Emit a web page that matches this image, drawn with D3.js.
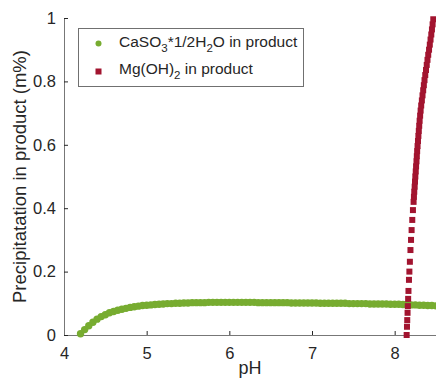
<!DOCTYPE html>
<html>
<head>
<meta charset="utf-8">
<script src="https://cdn.jsdelivr.net/npm/d3@7"></script>
<style>
  body { margin: 0; background: #fff; }
  text { font-family: "Liberation Sans", Arial, sans-serif; fill: #262626; }
</style>
</head>
<body>
<div id="chart"></div>
<script>
// CaSO3*1/2H2O in product
var phCa = [4.20, 4.25, 4.30, 4.35, 4.40, 4.45, 4.50, 4.55, 4.60, 4.65, 4.70, 4.75, 4.80, 4.85, 4.90, 4.95,
            5.00, 5.05, 5.10, 5.15, 5.20, 5.25, 5.30, 5.35, 5.40, 5.45, 5.50, 5.55, 5.60, 5.65, 5.70, 5.75,
            5.80, 5.85, 5.90, 5.95, 6.00, 6.05, 6.10, 6.15, 6.20, 6.25, 6.30, 6.35, 6.40, 6.45, 6.50, 6.55,
            6.60, 6.65, 6.70, 6.75, 6.80, 6.85, 6.90, 6.95, 7.00, 7.05, 7.10, 7.15, 7.20, 7.25, 7.30, 7.35,
            7.40, 7.45, 7.50, 7.55, 7.60, 7.65, 7.70, 7.75, 7.80, 7.85, 7.90, 7.95, 8.00, 8.05, 8.10, 8.15,
            8.20, 8.25, 8.30, 8.35, 8.40, 8.45, 8.50];
var caso3 = [0.004, 0.017, 0.029, 0.040, 0.050, 0.058, 0.064, 0.070, 0.074, 0.078, 0.081, 0.084, 0.087, 0.089, 0.091, 0.093,
             0.094, 0.095, 0.096, 0.097, 0.098, 0.099, 0.099, 0.100, 0.100, 0.101, 0.101, 0.102, 0.102, 0.102, 0.102, 0.103,
             0.103, 0.103, 0.103, 0.103, 0.103, 0.103, 0.103, 0.103, 0.103, 0.103, 0.103, 0.102, 0.102, 0.102, 0.102, 0.102,
             0.102, 0.102, 0.102, 0.101, 0.101, 0.101, 0.101, 0.101, 0.101, 0.101, 0.100, 0.100, 0.100, 0.100, 0.100, 0.100,
             0.100, 0.099, 0.099, 0.099, 0.099, 0.099, 0.098, 0.098, 0.098, 0.098, 0.098, 0.097, 0.097, 0.097, 0.096, 0.096,
             0.095, 0.095, 0.094, 0.094, 0.093, 0.093, 0.092];

// Mg(OH)2 in product
var phMg = [8.145, 8.149, 8.152, 8.156, 8.159, 8.163, 8.167, 8.173, 8.178, 8.184, 8.191, 8.198, 8.205, 8.213, 8.221, 8.229,
            8.233, 8.237, 8.242, 8.246, 8.250, 8.255, 8.259, 8.264, 8.268, 8.272, 8.277, 8.282, 8.287, 8.292, 8.297, 8.302,
            8.308, 8.314, 8.321, 8.329, 8.337, 8.345, 8.353, 8.361, 8.370, 8.379, 8.388, 8.397, 8.406, 8.416, 8.425, 8.434,
            8.443, 8.451, 8.459, 8.467];
var mgoh2 = [0.000, 0.026, 0.047, 0.070, 0.091, 0.114, 0.139, 0.174, 0.200, 0.231, 0.268, 0.300, 0.331, 0.363, 0.394, 0.420,
             0.436, 0.452, 0.468, 0.484, 0.500, 0.516, 0.532, 0.548, 0.564, 0.580, 0.596, 0.612, 0.628, 0.644, 0.660, 0.676,
             0.692, 0.708, 0.724, 0.740, 0.756, 0.772, 0.788, 0.804, 0.820, 0.836, 0.852, 0.868, 0.884, 0.900, 0.916, 0.932,
             0.948, 0.964, 0.980, 0.996];

var xTicks = [4, 5, 6, 7, 8];
var yTicks = [0, 0.2, 0.4, 0.6, 0.8, 1];

var W = 436, H = 378;
var margin = {top: 18, right: 0, bottom: 43, left: 64};
var green = "#77ac30", red = "#a2142f";

var svg = d3.select("#chart").append("svg")
    .attr("width", W)
    .attr("height", H);

var x = d3.scaleLinear().domain([4, 8.5]).range([margin.left, W - margin.right]);
var y = d3.scaleLinear().domain([0, 1]).range([H - margin.bottom, margin.top]);

// axes (ticks point inward like matlab)
var xAxis = d3.axisBottom(x).tickValues(xTicks).tickSizeInner(-4).tickSizeOuter(0).tickPadding(12)
    .tickFormat(d3.format("d"));
var yAxis = d3.axisLeft(y).tickValues(yTicks).tickSizeInner(-4).tickSizeOuter(0).tickPadding(8)
    .tickFormat(function(d) { return String(d); });

var gx = svg.append("g")
    .attr("transform", "translate(0," + y(0) + ")")
    .call(xAxis);
var gy = svg.append("g")
    .attr("transform", "translate(" + x(4) + ",0)")
    .call(yAxis);

[gx, gy].forEach(function(g) {
  g.select(".domain").attr("stroke", "#777");
  g.selectAll(".tick line").attr("stroke", "#262626");
  g.selectAll(".tick text")
      .attr("fill", "#262626")
      .style("font-size", "16.5px")
      .style("font-family", "'Liberation Sans', Arial, sans-serif");
});

// series
var caData = phCa.map(function(p, i) { return {ph: p, v: caso3[i]}; });
var mgData = phMg.map(function(p, i) { return {ph: p, v: mgoh2[i]}; });

svg.append("g").selectAll("circle")
    .data(caData)
  .enter().append("circle")
    .attr("cx", function(d) { return x(d.ph); })
    .attr("cy", function(d) { return y(d.v); })
    .attr("r", 3.7)
    .attr("fill", green);

var sq = 6;
svg.append("g").selectAll("rect")
    .data(mgData)
  .enter().append("rect")
    .attr("x", function(d) { return x(d.ph) - sq / 2; })
    .attr("y", function(d) { return y(d.v) - sq / 2; })
    .attr("width", sq)
    .attr("height", sq)
    .attr("fill", red);

// axis labels
svg.append("text")
    .attr("x", (x(4) + x(8.5)) / 2)
    .attr("y", 373.5)
    .attr("text-anchor", "middle")
    .style("font-size", "18px")
    .text("pH");

svg.append("text")
    .attr("transform", "translate(20," + (y(0) + y(1)) / 2 + ") rotate(-90)")
    .attr("text-anchor", "middle")
    .attr("dy", "0.35em")
    .style("font-size", "18.5px")
    .text("Precipitatation in product (m%)");

// legend
var legend = svg.append("g");
legend.append("rect")
    .attr("x", 78.5).attr("y", 28.5)
    .attr("width", 225).attr("height", 58)
    .attr("fill", "#fff")
    .attr("stroke", "#707070");

legend.append("circle")
    .attr("cx", 98.5).attr("cy", 43.5).attr("r", 3)
    .attr("fill", green);
legend.append("rect")
    .attr("x", 95.5).attr("y", 68.5).attr("width", 6).attr("height", 6)
    .attr("fill", red);

var t1 = legend.append("text").attr("x", 119).attr("y", 47).style("font-size", "15.5px");
t1.append("tspan").text("CaSO");
t1.append("tspan").attr("dy", 4.5).style("font-size", "11.5px").text("3");
t1.append("tspan").attr("dy", -4.5).text("*1/2H");
t1.append("tspan").attr("dy", 4.5).style("font-size", "11.5px").text("2");
t1.append("tspan").attr("dy", -4.5).text("O in product");

var t2 = legend.append("text").attr("x", 119).attr("y", 74).style("font-size", "15.5px");
t2.append("tspan").text("Mg(OH)");
t2.append("tspan").attr("dy", 4.5).style("font-size", "11.5px").text("2");
t2.append("tspan").attr("dy", -4.5).text(" in product");
</script>
</body>
</html>
